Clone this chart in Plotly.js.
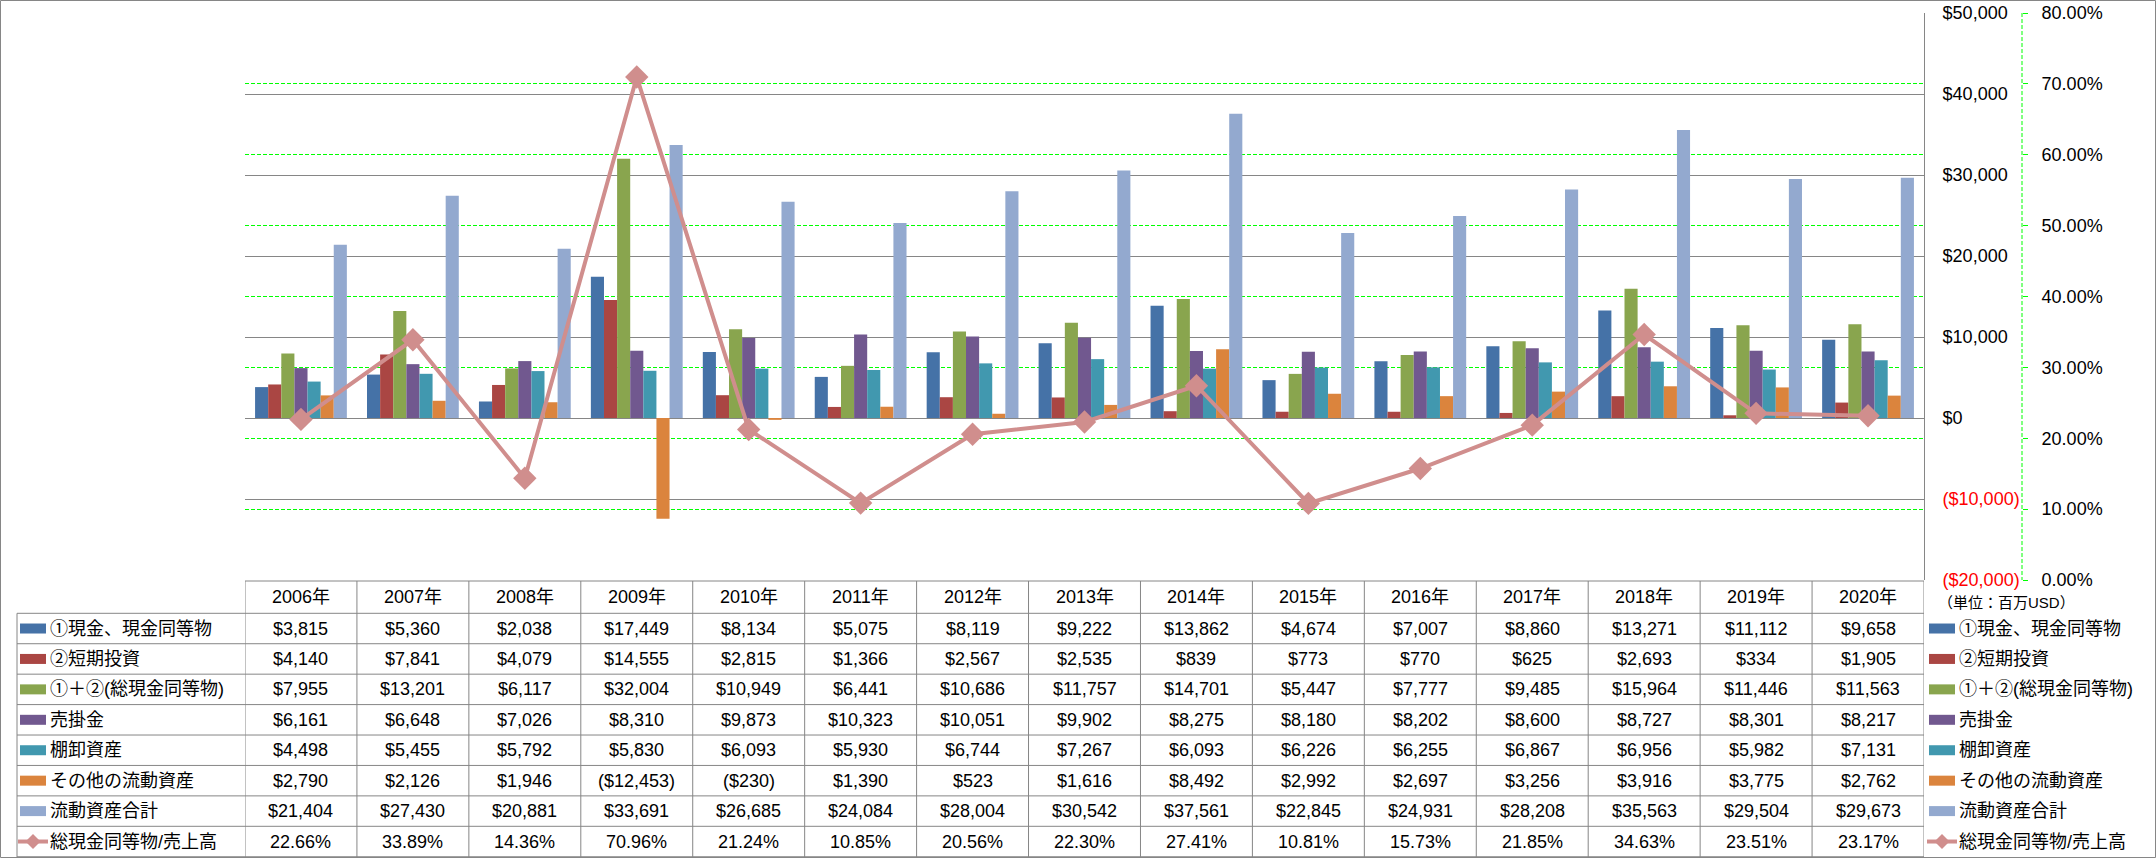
<!DOCTYPE html>
<html><head><meta charset="utf-8">
<script src="https://cdn.plot.ly/plotly-3.0.1.min.js"></script>
<style>html,body{margin:0;padding:0;background:#fff;}#chart{width:2156px;height:858px;}</style>
</head><body><div id="chart"></div>
<script>
// ---- data ----
const years = ['2006年','2007年','2008年','2009年','2010年','2011年','2012年','2013年','2014年','2015年','2016年','2017年','2018年','2019年','2020年'];
const cashEq      = [3815,5360,2038,17449,8134,5075,8119,9222,13862,4674,7007,8860,13271,11112,9658];
const shortInv    = [4140,7841,4079,14555,2815,1366,2567,2535,839,773,770,625,2693,334,1905];
const totalCash   = [7955,13201,6117,32004,10949,6441,10686,11757,14701,5447,7777,9485,15964,11446,11563];
const receivables = [6161,6648,7026,8310,9873,10323,10051,9902,8275,8180,8202,8600,8727,8301,8217];
const inventory   = [4498,5455,5792,5830,6093,5930,6744,7267,6093,6226,6255,6867,6956,5982,7131];
const otherCA     = [2790,2126,1946,-12453,-230,1390,523,1616,8492,2992,2697,3256,3916,3775,2762];
const totalCA     = [21404,27430,20881,33691,26685,24084,28004,30542,37561,22845,24931,28208,35563,29504,29673];
const cashToSales = [22.66,33.89,14.36,70.96,21.24,10.85,20.56,22.30,27.41,10.81,15.73,21.85,34.63,23.51,23.17];
const seriesNames = ['①現金、現金同等物','②短期投資','①＋②(総現金同等物)','売掛金','棚卸資産','その他の流動資産','流動資産合計','総現金同等物/売上高'];
const leftTicks = [-20000,-10000,0,10000,20000,30000,40000,50000];
const unitLabel = '（単位：百万USD）';

// ---- styling ----
const W = 2156, H = 858;
const PL = 245, PR = 1924, PT = 13, PB = 580;
const Y2X = 2022;
const FONT = '"Liberation Sans","Noto Sans CJK JP",sans-serif';
const colors = ['#4572A7','#AA4643','#89A54E','#71588F','#4198AF','#DB843D','#93A9CF','#D08E8D'];
const GRID = '#868686';
const ROW0 = 613.3, ROWH = 30.43, HEADT = 581;

const barSeries = [cashEq, shortInv, totalCash, receivables, inventory, otherCA, totalCA];

function money(v){ const s = '$' + Math.abs(v).toLocaleString('en-US'); return v < 0 ? '(' + s + ')' : s; }
function pct(v){ return v.toFixed(2) + '%'; }
function py(px){ return 1 - px / H; }
function pxx(px){ return px / W; }

const traces = barSeries.map((vals, k) => ({
  type:'bar', x: years, y: vals, name: seriesNames[k],
  marker:{color: colors[k], line:{width:0}}, yaxis:'y', xaxis:'x', hoverinfo:'skip'
}));
traces.push({
  type:'scatter', mode:'lines+markers', x: years, y: cashToSales.map(v => v/100),
  name: seriesNames[7], yaxis:'y2', xaxis:'x',
  line:{color: colors[7], width:4}, marker:{symbol:'diamond', size:18, color: colors[7]}, hoverinfo:'skip'
});

const annotations = [];
const shapes = [];

// header years
years.forEach((yr, i) => annotations.push({xref:'x', yref:'paper', x:i, y:py((HEADT+ROW0)/2),
  text: yr, showarrow:false, xanchor:'center', yanchor:'middle', font:{size:18, family:FONT, color:'#000'}}));

// rows
const rows = barSeries.map(s => s.map(money));
rows.push(cashToSales.map(pct));
rows.forEach((r, k) => {
  const yc = ROW0 + ROWH*k + ROWH/2;
  r.forEach((t, i) => annotations.push({xref:'x', yref:'paper', x:i, y:py(yc), text:t, showarrow:false,
    xanchor:'center', yanchor:'middle', font:{size:18, family:FONT, color:'#000'}}));
  // legends (left table column and right side)
  [[20, 48], [1929, 1957]].forEach(([sx, tx]) => {
    annotations.push({xref:'paper', yref:'paper', x:pxx(tx), y:py(yc), text: seriesNames[k], showarrow:false,
      xanchor:'left', yanchor:'middle', font:{size:18, family:FONT, color:'#000'}});
    if (k < 7) {
      shapes.push({type:'rect', xref:'paper', yref:'paper', x0:pxx(sx), x1:pxx(sx+26), y0:py(yc-5), y1:py(yc+5),
        fillcolor: colors[k], line:{width:0}});
    } else {
      shapes.push({type:'line', xref:'paper', yref:'paper', x0:pxx(sx-2), x1:pxx(sx+28), y0:py(yc), y1:py(yc),
        line:{color: colors[7], width:4}});
      const cx = sx + 13, r = 7.5;
      shapes.push({type:'path', xref:'paper', yref:'paper',
        path:`M${pxx(cx-r)},${py(yc)} L${pxx(cx)},${py(yc-r)} L${pxx(cx+r)},${py(yc)} L${pxx(cx)},${py(yc+r)} Z`,
        fillcolor: colors[7], line:{width:0}});
    }
  });
});

annotations.push({xref:'paper', yref:'paper', x:pxx(1936), y:py(602), text:unitLabel, showarrow:false,
  xanchor:'left', yanchor:'middle', font:{size:15, family:FONT, color:'#000'}});

// table grid
const tline = {color: GRID, width:1};
shapes.push({type:'line', xref:'x', yref:'paper', x0:-0.5, x1:years.length-0.5, y0:py(HEADT), y1:py(HEADT), line:tline});
for (let k = 0; k <= 8; k++) {
  const y = ROW0 + ROWH*k;
  shapes.push({type:'line', xref:'paper', yref:'paper', x0:pxx(17), x1:pxx(PR), y0:py(y), y1:py(y), line:tline});
}
for (let i = 0; i <= years.length; i++) {
  shapes.push({type:'line', xref:'x', yref:'paper', x0:i-0.5, x1:i-0.5, y0:py(HEADT), y1:py(857), line:tline});
}
shapes.push({type:'line', xref:'paper', yref:'paper', x0:pxx(17), x1:pxx(17), y0:py(ROW0), y1:py(857), line:tline});
// secondary axis dashed line
shapes.push({type:'line', xref:'paper', yref:'paper', x0:pxx(Y2X), x1:pxx(Y2X), y0:py(PT), y1:py(PB),
  line:{color:'#00FF00', width:1, dash:'4px,2px'}});
// outer frame
shapes.push({type:'rect', xref:'paper', yref:'paper', x0:pxx(0.5), x1:pxx(W-0.5), y0:py(0.5), y1:py(H-0.5),
  line:{color:GRID, width:1}, fillcolor:'rgba(0,0,0,0)'});

const tickText = leftTicks.map(v => v < 0 ? `<span style="color:#FF0000">${money(v)}</span>` : money(v));

const layout = {
  width: W, height: H, margin:{l:0, r:0, t:0, b:0, pad:0},
  paper_bgcolor:'#ffffff', plot_bgcolor:'rgba(0,0,0,0)', showlegend:false,
  barmode:'group', bargap:0.18, bargroupgap:0,
  font:{family:FONT, size:18, color:'#000'},
  xaxis:{domain:[PL/W, PR/W], type:'category', range:[-0.5, years.length-0.5], showticklabels:false, ticks:'',
    showgrid:false, zeroline:false, showline:false, fixedrange:true, automargin:false},
  yaxis:{domain:[1-PB/H, 1-PT/H], range:[-20000, 50000], side:'right', tickmode:'array', tickvals:leftTicks, ticktext:tickText,
    showgrid:true, gridcolor:GRID, gridwidth:1, zeroline:true, zerolinecolor:GRID, zerolinewidth:1,
    showline:true, linecolor:GRID, linewidth:1, ticks:'', ticklabelstandoff:14, automargin:false,
    tickfont:{size:18, family:FONT, color:'#000'}},
  yaxis2:{overlaying:'y', side:'right', anchor:'free', position:Y2X/W, range:[0, 0.8], tick0:0, dtick:0.1, tickformat:'.2%',
    showgrid:true, gridcolor:'#00FF00', gridwidth:1, griddash:'4px,2px', zeroline:false, showline:false,
    ticks:'outside', ticklen:5, tickcolor:'#00FF00', tickwidth:1, ticklabelstandoff:10, automargin:false,
    tickfont:{size:18, family:FONT, color:'#000'}},
  annotations: annotations, shapes: shapes
};

Plotly.newPlot('chart', traces, layout, {staticPlot:true, displayModeBar:false});
</script></body></html>
